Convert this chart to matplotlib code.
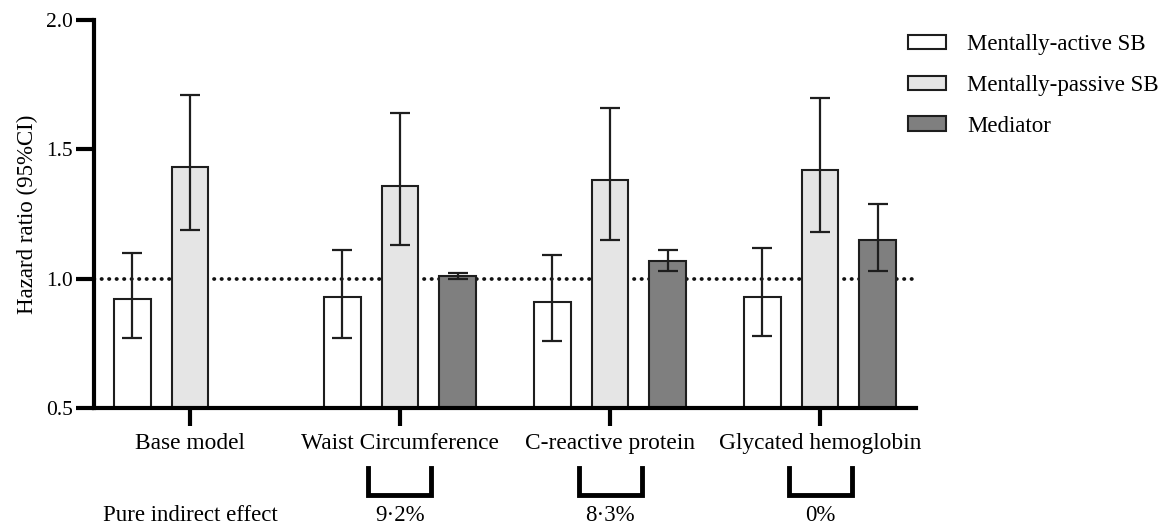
import numpy as np
import matplotlib
matplotlib.use("Agg")
import matplotlib.pyplot as plt
from matplotlib.patches import Patch

plt.rcParams['font.family'] = ['Liberation Serif', 'DejaVu Serif']

# data
groups = ["Base model", "Waist Circumference", "C-reactive protein", "Glycated hemoglobin"]
series = ["Mentally-active SB", "Mentally-passive SB", "Mediator"]

active_hr = [0.92, 0.93, 0.91, 0.93]
active_lo = [0.77, 0.77, 0.76, 0.78]
active_hi = [1.10, 1.11, 1.09, 1.12]

passive_hr = [1.43, 1.36, 1.38, 1.42]
passive_lo = [1.19, 1.13, 1.15, 1.18]
passive_hi = [1.71, 1.64, 1.66, 1.70]

# no mediator for the base model
mediator_hr = [np.nan, 1.01, 1.07, 1.15]
mediator_lo = [np.nan, 1.00, 1.03, 1.03]
mediator_hi = [np.nan, 1.02, 1.11, 1.29]

indirect_effect = ["", "9·2%", "8·3%", "0%"]

colors = ["white", "#e5e5e5", "#7f7f7f"]
edge = "#1e1e1e"

fig = plt.figure(figsize=(11.66, 5.26), dpi=100)
ax = fig.add_axes([94/1166, 1 - 408/526, (916 - 94)/1166, (408 - 20)/526])

x = np.arange(len(groups))
width = 0.175
offset = 0.274

all_series = [(active_hr, active_lo, active_hi),
              (passive_hr, passive_lo, passive_hi),
              (mediator_hr, mediator_lo, mediator_hi)]

for i, (hr, lo, hi) in enumerate(all_series):
    hr = np.array(hr, dtype=float)
    lo = np.array(lo, dtype=float)
    hi = np.array(hi, dtype=float)
    ok = ~np.isnan(hr)
    xs = x[ok] + (i - 1) * offset
    ax.bar(xs, hr[ok] - 0.5, bottom=0.5, width=width, color=colors[i],
           edgecolor=edge, linewidth=1.5, zorder=2)
    ax.errorbar(xs, hr[ok], yerr=[hr[ok] - lo[ok], hi[ok] - hr[ok]], fmt='none',
                ecolor=edge, elinewidth=1.6, capsize=7, capthick=1.6, zorder=3)

ax.axhline(1.0, color="#111111", lw=2.7, dashes=(0.1, 1.9),
           dash_capstyle='round', zorder=1)

ax.set_xlim(-0.457, 3.457)
ax.set_ylim(0.5, 2.0)
ax.set_yticks([0.5, 1.0, 1.5, 2.0])
ax.set_yticklabels(["0.5", "1.0", "1.5", "2.0"])
ax.set_xticks(x)
ax.set_xticklabels(groups)
ax.set_ylabel("Hazard ratio (95%CI)", fontsize=16.5, labelpad=6)

for s in ["top", "right"]:
    ax.spines[s].set_visible(False)
for s in ["left", "bottom"]:
    ax.spines[s].set_linewidth(3)
ax.tick_params(axis='y', length=13, width=3, pad=2, labelsize=15.5)
ax.tick_params(axis='x', length=13, width=3, pad=5, labelsize=16.8)

# pure indirect effect brackets
tr = ax.get_xaxis_transform()
ax.text(0, -0.276, "Pure indirect effect", transform=tr, ha='center', va='center',
        fontsize=16.5)
for g, lab in zip(x, indirect_effect):
    if not lab:
        continue
    bx = [g - 0.15, g - 0.15, g + 0.15, g + 0.15]
    by = [-0.155, -0.224, -0.224, -0.155]
    ax.plot(bx, by, color="black", lw=3.5, transform=tr, clip_on=False,
            solid_joinstyle='miter')
    ax.text(g, -0.276, lab, transform=tr, ha='center', va='center', fontsize=16.5)

handles = [Patch(facecolor=c, edgecolor=edge, linewidth=1.5) for c in colors]
fig.legend(handles, series, loc='upper left', bbox_to_anchor=(908/1166, 0.935),
           frameon=False, fontsize=16.5, handlelength=1.66, handleheight=0.57,
           handletextpad=0.92, labelspacing=0.86, borderpad=0, borderaxespad=0)

fig.savefig("out.png", dpi=100)
